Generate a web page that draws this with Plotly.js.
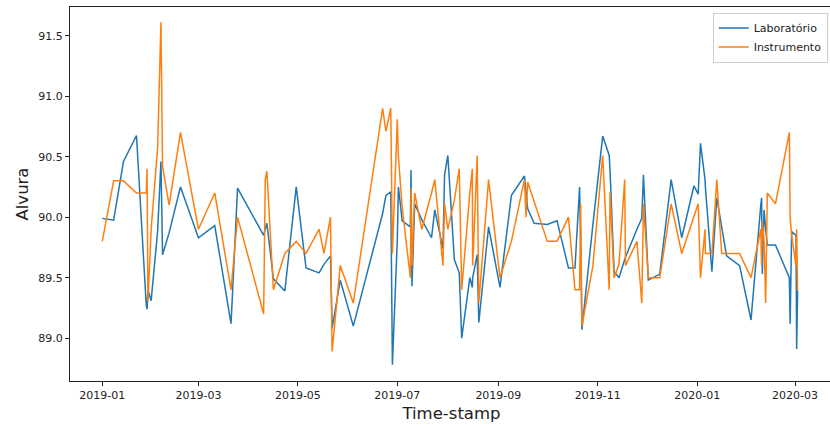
<!DOCTYPE html>
<html>
<head>
<meta charset="utf-8">
<script src="https://cdn.plot.ly/plotly-3.0.1.min.js"></script>
<style>
  html, body { margin: 0; padding: 0; background: #fff; overflow: hidden; }
  #chart { width: 833px; height: 425px; }
</style>
</head>
<body>
<div id="chart"></div>
<script>
// Sample timestamps shared by both measurement series
const timestamps = [
  "2019-01-01", "2019-01-08", "2019-01-14", "2019-01-22", "2019-01-28 00:00",
  "2019-01-28 12:00", "2019-01-29", "2019-01-31", "2019-02-04", "2019-02-06",
  "2019-02-07", "2019-02-11", "2019-02-18", "2019-03-01", "2019-03-11",
  "2019-03-21", "2019-03-25", "2019-04-10", "2019-04-11", "2019-04-12",
  "2019-04-16", "2019-04-23", "2019-04-30", "2019-05-06", "2019-05-14",
  "2019-05-17", "2019-05-21", "2019-05-22", "2019-05-27", "2019-06-04",
  "2019-06-22", "2019-06-24", "2019-06-27", "2019-06-28", "2019-07-01 00:00",
  "2019-07-01 16:00", "2019-07-04", "2019-07-09 00:00", "2019-07-09 10:00", "2019-07-10",
  "2019-07-11 16:00", "2019-07-16", "2019-07-22", "2019-07-24", "2019-07-29",
  "2019-07-30", "2019-08-01", "2019-08-05", "2019-08-08", "2019-08-09 12:00",
  "2019-08-14 12:00", "2019-08-16 00:00", "2019-08-16 06:00", "2019-08-19", "2019-08-20",
  "2019-08-26", "2019-09-02", "2019-09-09", "2019-09-17", "2019-09-18",
  "2019-09-19", "2019-09-23", "2019-10-01", "2019-10-07", "2019-10-14",
  "2019-10-18", "2019-10-20 20:00", "2019-10-21 12:00", "2019-10-22 06:00", "2019-10-29",
  "2019-11-04", "2019-11-08 00:00", "2019-11-08 12:00", "2019-11-11", "2019-11-14",
  "2019-11-17 12:00", "2019-11-18", "2019-11-25", "2019-11-28", "2019-11-29",
  "2019-12-02", "2019-12-09", "2019-12-16", "2019-12-22 12:00", "2019-12-30",
  "2020-01-01 14:00", "2020-01-03", "2020-01-05 19:00", "2020-01-06", "2020-01-10",
  "2020-01-13", "2020-01-16", "2020-01-19", "2020-01-27", "2020-02-03",
  "2020-02-09 00:00", "2020-02-09 12:00", "2020-02-09 22:00", "2020-02-11", "2020-02-12",
  "2020-02-13", "2020-02-18", "2020-02-26 12:00", "2020-02-27 00:00", "2020-02-27 22:00",
  "2020-03-01 14:00", "2020-03-02 00:00", "2020-03-02 14:00"
];

// Brightness (alvura) measured in the laboratory
const laboratorio = [
  89.99, 89.975, 90.46, 90.675, 89.27,
  89.24, 89.40, 89.31, 89.89, 90.46,
  89.69, 89.87, 90.25, 89.83, 89.93,
  89.12, 90.24, 89.85, 89.90, 89.95,
  89.49, 89.39, 90.25, 89.58, 89.54,
  89.61, 89.68, 89.08, 89.48, 89.10,
  90.03, 90.18, 90.21, 88.78, 89.81,
  90.25, 89.97, 89.92, 90.39, 89.43,
  90.11, 89.98, 89.83, 90.06, 89.74,
  90.35, 90.51, 89.65, 89.54, 89.00,
  89.50, 89.42, 89.50, 89.69, 89.13,
  89.92, 89.42, 90.18, 90.34, 90.20,
  90.07, 89.95, 89.94, 89.97, 89.58,
  89.58, 90.25, 89.80, 89.07, 89.94,
  90.67, 90.51, 90.39, 89.55, 89.50,
  89.65, 89.67, 89.90, 89.99, 90.35,
  89.48, 89.53, 90.31, 89.83, 90.26,
  90.19, 90.61, 90.31, 90.25, 89.55,
  90.16, 89.92, 89.68, 89.60, 89.15,
  90.10, 90.16, 89.53, 90.06, 89.90,
  89.77, 89.77, 89.50, 89.12, 89.88,
  89.85, 88.91, 89.39
];

// Brightness (alvura) reported by the online instrument
const instrumento = [
  89.80, 90.30, 90.30, 90.20, 90.20,
  90.40, 89.30, 89.90, 90.58, 91.61,
  90.42, 90.10, 90.70, 89.90, 90.20,
  89.40, 90.00, 89.20, 90.31, 90.38,
  89.40, 89.70, 89.80, 89.70, 89.90,
  89.70, 90.00, 88.89, 89.60, 89.29,
  90.90, 90.71, 90.90, 89.70, 90.81,
  90.50, 90.08, 89.50, 90.24, 89.60,
  90.20, 89.90, 90.20, 90.31, 89.60,
  90.11, 89.90, 90.14, 90.40, 89.40,
  90.20, 90.40, 89.60, 90.51, 89.29,
  90.31, 89.50, 89.80, 90.31, 90.00,
  90.29, 90.13, 89.80, 89.80, 90.00,
  89.40, 89.40, 90.11, 89.10, 89.60,
  90.51, 89.40, 90.21, 89.50, 89.61,
  90.31, 89.60, 89.80, 89.29, 90.11,
  89.50, 89.50, 90.11, 89.70, 90.00,
  90.11, 89.50, 89.90, 89.70, 89.70,
  90.31, 89.70, 89.70, 89.70, 89.50,
  89.90, 89.60, 89.97, 89.80, 89.29,
  90.20, 90.11, 90.70, 90.00, 89.85,
  89.60, 89.90, 89.39
];

const seriesNames = ["Laboratório", "Instrumento"];
const yTicks = [89.0, 89.5, 90.0, 90.5, 91.0, 91.5];

const font = "DejaVu Sans, sans-serif";

const traces = [
  {
    x: timestamps, y: laboratorio, name: seriesNames[0],
    type: "scatter", mode: "lines",
    line: { color: "#1f77b4", width: 1.5 }
  },
  {
    x: timestamps, y: instrumento, name: seriesNames[1],
    type: "scatter", mode: "lines",
    line: { color: "#ff7f0e", width: 1.5 }
  }
];

const axisCommon = {
  showgrid: false, zeroline: false,
  showline: true, linecolor: "#222", linewidth: 1, mirror: true,
  ticks: "outside", ticklen: 4, tickwidth: 1, tickcolor: "#222",
  tickfont: { family: font, size: 11, color: "#222" }
};

const layout = {
  width: 833, height: 425,
  margin: { l: 70, r: 0, t: 7, b: 44 },
  paper_bgcolor: "#fff", plot_bgcolor: "#fff",
  font: { family: font, color: "#222" },
  showlegend: true,
  legend: {
    x: 0.993, y: 0.985, xanchor: "right", yanchor: "top",
    traceorder: "normal", tracegroupgap: 0,
    bgcolor: "rgba(255,255,255,0.8)", bordercolor: "#cccccc", borderwidth: 1,
    font: { family: font, size: 11, color: "#222" }
  },
  xaxis: Object.assign({}, axisCommon, {
    type: "date",
    range: ["2018-12-12 05:00", "2020-03-24 07:00"],
    tick0: "2019-01-01", dtick: "M2", tickformat: "%Y-%m",
    title: { text: "Time-stamp", font: { family: font, size: 16.5, color: "#222" }, standoff: 6 }
  }),
  yaxis: Object.assign({}, axisCommon, {
    range: [88.646, 91.737],
    tickvals: yTicks, tickformat: ".1f",
    title: { text: "Alvura", font: { family: font, size: 16.5, color: "#222" }, standoff: 5 }
  })
};

Plotly.newPlot("chart", traces, layout, { displayModeBar: false, staticPlot: true });
</script>
</body>
</html>
